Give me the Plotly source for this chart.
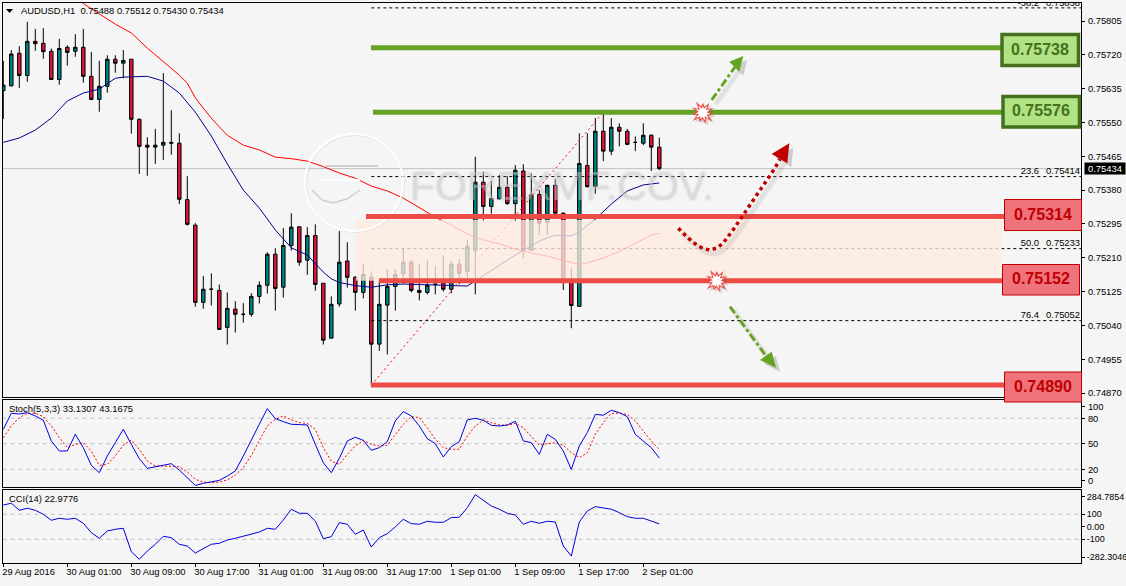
import math
import plotly.graph_objects as go

W, H = 1126, 586

# AUDUSD H1 candles, prices in points (price * 1e5)
opens = [75630,75642,75724,75668,75754,75749,75729,75658,75739,75729,75739,75666,75608,75641,75709,75699,
         75709,75558,75493,75488,75493,75500,75498,75356,75292,75098,75131,75128,75035,75081,75068,75068,
         75113,75141,75219,75136,75241,75288,75204,75266,75146,75008,75094,75202,75161,75123,75161,74993,
         75091,75138,75170,75199,75128,75123,75144,75147,75131,75194,75176,75229,75400,75339,75358,75387,
         75346,75428,75229,75369,75299,75392,75322,75149,75088,75442,75389,75528,75478,75538,75528,75500,
         75498,75518,75488]
highs = [75705,75732,75742,75803,75785,75787,75736,75760,75744,75772,75785,75727,75705,75719,75719,75732,
         75709,75560,75513,75534,75674,75581,75523,75415,75297,75164,75171,75143,75123,75101,75096,75121,
         75151,75224,75234,75285,75322,75288,75287,75294,75146,75113,75277,75249,75164,75196,75176,75152,
         75181,75181,75234,75204,75196,75204,75189,75216,75202,75207,75255,75464,75426,75403,75418,75415,
         75443,75445,75422,75380,75394,75408,75324,75183,75523,75523,75561,75573,75561,75548,75534,75515,
         75548,75520,75512]
lows = [75559,75641,75637,75652,75730,75710,75658,75645,75693,75715,75650,75606,75577,75625,75675,75661,
        75522,75421,75416,75446,75456,75469,75345,75291,75087,75082,75090,75030,74992,75022,75047,75062,
        75095,75120,75077,75110,75228,75190,75167,75127,74992,75008,75087,75135,75077,75108,74890,74976,
        74967,75077,75144,75123,75103,75118,75118,75125,75121,75144,75149,75118,75301,75321,75357,75343,
        75300,75209,75227,75267,75267,75321,75129,75033,75087,75386,75371,75453,75468,75490,75493,75478,
        75493,75428,75430]
closes = [75644,75722,75668,75754,75748,75728,75658,75736,75726,75739,75666,75608,75641,75709,75699,75706,
          75558,75490,75488,75493,75500,75498,75357,75294,75098,75131,75131,75030,75083,75068,75068,75113,
          75141,75219,75133,75241,75287,75199,75266,75143,75003,75093,75199,75161,75123,75168,74993,75093,
          75138,75168,75199,75128,75123,75141,75143,75131,75194,75171,75239,75400,75339,75359,75387,75346,
          75430,75229,75368,75297,75392,75322,75149,75090,75447,75389,75528,75478,75538,75528,75495,75500,
          75518,75488,75434]

# Moving averages, sampled at the listed bars
red_ma_bars = [9,10,14,16,18,20,22,23,24,25,26,27,28,30,32,34,36,38,40,42,44,46,48,50,52,54,56,58,60,62,64,66,68,70,72,73,75,77,79,81,82]
red_ma = [75863,75849,75797,75775,75737,75704,75669,75649,75612,75586,75561,75539,75518,75493,75481,75463,75459,75453,75439,75423,
          75410,75390,75378,75360,75335,75312,75292,75270,75255,75245,75232,75222,75214,75204,75193,75197,75209,75226,75247,75267,75272]
blue_ma_bars = [0,2,4,6,8,10,12,14,15,18,20,22,24,26,28,30,32,34,36,38,40,41,42,44,46,48,50,54,58,59,61,63,65,67,69,71,72,74,76,78,80,82]
blue_ma = [75500,75511,75531,75561,75604,75624,75634,75661,75664,75666,75654,75624,75576,75516,75446,75380,75335,75280,75235,75217,75174,
           75157,75148,75140,75136,75142,75144,75142,75139,75152,75179,75204,75229,75252,75267,75265,75275,75307,75345,75378,75393,75398]

stoch_main = [67,85.8,85,86.6,82.7,77.6,53.3,41.5,41.5,61.1,45.4,24.6,16,35.6,51.3,67,49.3,32.5,21.1,22.7,25,26.6,19.1,10.1,1.1,3.5,5,7,12.1,18,
              35.6,55.2,72.9,91.3,79.5,76,72.9,72.5,72.1,49.3,27.8,16,32.9,53.3,57.6,54,42.3,45.4,
              52.5,76.8,87.8,82.7,70.9,56,50.1,34.4,46.6,52.5,78,79.9,77.6,71.7,70.9,72.1,76.4,53.3,51.3,37.6,61.1,55.2,41.5,19.9,47.4,63.1,84.6,83.5,89.3,86.6,81.9,61.1,53.3,45.4,33.1307]
stoch_signal = [57.2,70.9,80.7,85.8,85.8,81.9,70.9,57.2,45.4,49.3,51.3,41.5,24.6,25.8,35.6,48.2,54.4,43.5,29.7,23.8,23.8,23.8,23.1,16.8,8.2,5,4.2,5,7.4,13.3,
                21.9,36.4,53.3,70.9,78.7,82.7,78,74.8,74,67,45.4,29.7,25.8,37.6,47.4,54,49.3,47.4,
                48.2,61.1,72.9,81.9,80.7,68.9,55.2,45.4,43.5,43.5,59.1,70.9,78,74.8,72.1,71.7,74,68.9,58.4,48.2,50.1,51.3,48.2,39.5,33.7,39.5,61.1,74.8,85.8,85.8,84.6,76.8,65,53.3,43.1675]
cci = [174,188,132,148,132,100,52,68,60,68,28,-47,-92,-34,-20,-12,-199,-260,-194,-140,-76,-87,-140,-154,-210,-175,-140,-132,-106,-92,
       -76,-60,-42,-12,-20,54,140,108,108,46,-95,-79,33,20,-60,-26,-162,-87,
       -55,-1,60,25,20,44,36,36,73,76,153,257,214,166,140,108,94,20,44,28,44,38,-154,-234,38,126,161,148,140,113,81,68,68,46,22.9776]

# Horizontal support and resistance levels with their labels
green_levels = [0.75738, 0.75576]
red_levels = [0.75314, 0.75152, 0.74890]
fib_percent = ["-38.2", "23.6", "50.0", "76.4"]
fib_prices = [0.75838, 0.75414, 0.75233, 0.75052]
last_price = 0.75434

price_ticks = [0.75805,0.75720,0.75635,0.75550,0.75465,0.75380,0.75295,0.75210,0.75125,0.75040,0.74955,0.74870]
time_labels = ["29 Aug 2016","30 Aug 01:00","30 Aug 09:00","30 Aug 17:00","31 Aug 01:00","31 Aug 09:00",
               "31 Aug 17:00","1 Sep 01:00","1 Sep 09:00","1 Sep 17:00","2 Sep 01:00"]
time_bars = [0,8,16,24,32,40,48,56,64,72,80]

# Styling
BG = "#F5F5F5"
TEAL, CRIMSON = "#008080", "#DC143C"
GREEN, DARK_GREEN, LIGHT_GREEN = "#64A323", "#466F1F", "#B1E283"
RED, DARK_RED, PINK = "#EC4B46", "#C00000", "#EE737C"
NAVY, BLUE = "#00008B", "#0000E0"
FONT = "Liberation Sans"
FS = 9.4

# Pixel helpers for the hand-drawn overlays
def fx(px): return px / W
def fy(py): return 1 - py / H
def bar_of(px): return (px - 3.3) / 8
def price_of(py): return (75857.8 - 2.513 * py) / 1e5

def pts(v): return [a / 1e5 for a in v]

bars = list(range(len(closes)))
X_RANGE = [bar_of(2.5), bar_of(1081)]

fig = go.Figure()

fig.add_trace(go.Candlestick(
    x=bars, open=pts(opens), high=pts(highs), low=pts(lows), close=pts(closes),
    increasing=dict(line=dict(color="black", width=1), fillcolor=TEAL),
    decreasing=dict(line=dict(color="black", width=1), fillcolor=CRIMSON),
    whiskerwidth=0, showlegend=False, hoverinfo="skip", xaxis="x", yaxis="y"))
fig.add_trace(go.Scatter(x=blue_ma_bars, y=pts(blue_ma), mode="lines", line=dict(color=NAVY, width=1), xaxis="x", yaxis="y"))
fig.add_trace(go.Scatter(x=red_ma_bars, y=pts(red_ma), mode="lines", line=dict(color="#FF0000", width=1), xaxis="x", yaxis="y"))

# Fibonacci retracement: trend line, levels and their labels
fig.add_trace(go.Scatter(x=[46, 75], y=[red_levels[2], green_levels[1]], mode="lines",
                         line=dict(color="#FF0000", width=1, dash="2px,3px"), xaxis="x", yaxis="y"))
for level in fib_prices:
    fig.add_trace(go.Scatter(x=[46, X_RANGE[1]], y=[level, level], mode="lines",
                             line=dict(color="black", width=1, dash="3px,3px"), xaxis="x", yaxis="y"))
fig.add_trace(go.Scatter(x=[bar_of(1039)] * 4, y=fib_prices, mode="text", text=fib_percent,
                         textposition="top left", textfont=dict(family=FONT, size=FS, color="black"),
                         cliponaxis=True, xaxis="x", yaxis="y"))
fig.add_trace(go.Scatter(x=[bar_of(1080)] * 4, y=fib_prices, mode="text", text=[f"{v:.5f}" for v in fib_prices],
                         textposition="top left", textfont=dict(family=FONT, size=FS, color="black"),
                         cliponaxis=True, xaxis="x", yaxis="y"))

# Oscillator panes
fig.add_trace(go.Scatter(x=bars, y=stoch_signal, mode="lines", line=dict(color="#FF0000", width=1, dash="2px,2px"), xaxis="x2", yaxis="y2"))
fig.add_trace(go.Scatter(x=bars, y=stoch_main, mode="lines", line=dict(color=BLUE, width=1), xaxis="x2", yaxis="y2"))
fig.add_trace(go.Scatter(x=bars, y=cci, mode="lines", line=dict(color=BLUE, width=1), xaxis="x3", yaxis="y3"))

shapes = []
annotations = []

def add_shape(**kw):
    shapes.append(kw)

def poly(points):
    return "M" + "L".join(f"{fx(x):.5f},{fy(y):.5f}" for x, y in points) + "Z"

def open_path(points):
    return "M" + "L".join(f"{fx(x):.5f},{fy(y):.5f}" for x, y in points)

# Current price line sits behind the candles
add_shape(type="line", xref="x", yref="y", x0=X_RANGE[0], x1=X_RANGE[1], y0=last_price, y1=last_price,
          line=dict(color="#C0C0C0", width=1), layer="below")

# Dashed reference levels of the oscillators
for lv in (80, 50, 20):
    add_shape(type="line", xref="x2", yref="y2", x0=X_RANGE[0], x1=X_RANGE[1], y0=lv, y1=lv,
              line=dict(color="#BEBEBE", width=1, dash="4px,4px"), layer="below")
for lv in (100, -100):
    add_shape(type="line", xref="x3", yref="y3", x0=X_RANGE[0], x1=X_RANGE[1], y0=lv, y1=lv,
              line=dict(color="#BEBEBE", width=1, dash="4px,4px"), layer="below")

# Highlighted zone between the two inner support levels
add_shape(type="rect", xref="x", yref="y", x0=bar_of(356), x1=bar_of(1001.7), y0=red_levels[1], y1=price_of(220),
          fillcolor="rgba(254,236,224,0.78)", line=dict(width=0))

# Watermark logo
ring = dict(type="circle", xref="paper", yref="paper")
add_shape(**ring, x0=fx(306.5), x1=fx(404.5), y0=fy(232.5), y1=fy(135.5), line=dict(color="rgba(160,160,160,0.22)", width=1))
add_shape(**ring, x0=fx(305), x1=fx(403), y0=fy(231), y1=fy(134), line=dict(color="rgba(255,255,255,0.9)", width=2))
add_shape(type="line", xref="paper", yref="paper", x0=fx(326), x1=fx(378), y0=fy(166), y1=fy(166), line=dict(color="rgba(160,160,160,0.45)", width=2))
add_shape(type="line", xref="paper", yref="paper", x0=fx(320), x1=fx(360), y0=fy(180), y1=fy(180), line=dict(color="rgba(255,255,255,0.9)", width=2))
add_shape(type="path", xref="paper", yref="paper",
          path=open_path([(312,190),(322,200),(333,203),(347,199),(360,190)]),
          line=dict(color="rgba(175,175,175,0.55)", width=1.5))

# Support and resistance lines with their value boxes
line_spans = {0.75738: 371, 0.75576: 373, 0.75314: 366, 0.75152: 379, 0.74890: 371}
line_ends = {0.75738: 1001, 0.75576: 1002, 0.75314: 1005, 0.75152: 1003, 0.74890: 1005}
for lv in green_levels:
    add_shape(type="line", xref="x", yref="y", x0=bar_of(line_spans[lv]), x1=bar_of(line_ends[lv]), y0=lv, y1=lv,
              line=dict(color=GREEN, width=5))
for lv in red_levels:
    add_shape(type="line", xref="x", yref="y", x0=bar_of(line_spans[lv]), x1=bar_of(line_ends[lv]), y0=lv, y1=lv,
              line=dict(color=RED, width=5))

boxes = [
    (green_levels[0], 1002, 1078.5, 34.5, 65.5, LIGHT_GREEN, DARK_GREEN, 3.5, DARK_GREEN),
    (green_levels[1], 1003, 1079.5, 96.5, 127, LIGHT_GREEN, DARK_GREEN, 3.5, DARK_GREEN),
    (red_levels[0], 1004.5, 1081.5, 199.5, 230.5, PINK, DARK_RED, 1, DARK_RED),
    (red_levels[1], 1002.5, 1079.5, 264.5, 295, PINK, DARK_RED, 1, DARK_RED),
    (red_levels[2], 1004.5, 1081.5, 372, 402, PINK, DARK_RED, 1, DARK_RED),
]
for value, x0, x1, y0, y1, fill, border, bw, txt in boxes:
    add_shape(type="rect", xref="paper", yref="paper", x0=fx(x0), x1=fx(x1), y0=fy(y1), y1=fy(y0),
              fillcolor=fill, line=dict(color=border, width=bw))
    annotations.append(dict(xref="paper", yref="paper", x=fx((x0 + x1) / 2), y=fy((y0 + y1) / 2 - 1), text=f"{value:.5f}",
                            showarrow=False, xanchor="center", yanchor="middle",
                            font=dict(family="Liberation Sans", size=16, color=txt, weight="bold")))

# Projected-move arrows, each with a soft drop shadow
def arrow(path_pts, head, color, width, dash):
    shadow = [(x + 4, y + 4) for x, y in path_pts]
    head_shadow = [(x + 4, y + 4) for x, y in head]
    for extra, alpha in ((3, 0.05), (1, 0.08)):
        add_shape(type="path", xref="paper", yref="paper", path=open_path(shadow),
                  line=dict(color=f"rgba(90,90,90,{alpha})", width=width + extra))
    add_shape(type="path", xref="paper", yref="paper", path=poly(head_shadow),
              fillcolor="rgba(90,90,90,0.25)", line=dict(width=0))
    add_shape(type="path", xref="paper", yref="paper", path=open_path(path_pts),
              line=dict(color=color, width=width, dash=dash))
    add_shape(type="path", xref="paper", yref="paper", path=poly(head), fillcolor=color, line=dict(width=0))

arrow([(711.7,100),(735,67)], [(729.3,61.7),(743.3,56),(739.3,71.7)], GREEN, 3, "8px,3px,3px,3px")
arrow([(730,306.7),(766,356)], [(760,360),(771.7,351.7),(776,367.7)], GREEN, 3, "8px,3px,3px,3px")
arrow([(678.3,228.3),(687,237),(696.7,245),(703,248.5),(710,250),(717,248),(723,243.3),(733,230),(743.3,215),(756.7,195),(767,180),(775,168),(780,159)],
      [(771.7,154),(789.3,143.3),(787.3,163.3)], DARK_RED, 3.5, "3.5px,3.5px")

# Impact stars on the levels
spikes = [12,6,11,6.5,13,6,12,6,10,6.5,13,6,11,6,12,6,13,6.5,10,6,12,6]
def star(cx, cy):
    outer, inner = [], []
    n = len(spikes)
    for k, r in enumerate(spikes):
        a = 2 * math.pi * k / n - 0.4
        outer.append((cx + r * math.cos(a), cy + r * math.sin(a)))
        ri = r * 0.68
        inner.append((cx + ri * math.cos(a), cy + ri * math.sin(a)))
    add_shape(type="path", xref="paper", yref="paper", path=poly([(x + 2, y + 2) for x, y in outer]),
              fillcolor="rgba(90,90,90,0.22)", line=dict(width=0))
    add_shape(type="path", xref="paper", yref="paper", path=poly(outer), fillcolor=RED, line=dict(width=0))
    add_shape(type="path", xref="paper", yref="paper", path=poly(inner), fillcolor="white", line=dict(width=0))
star(702.7, 112.7)
star(716.7, 281)

# Symbol menu marker
add_shape(type="path", xref="paper", yref="paper", path=poly([(6,9),(13,9),(9.5,13)]), fillcolor="black", line=dict(width=0))

def text_at(px, py, s, color="black", size=FS, anchor="left", **kw):
    annotations.append(dict(xref="paper", yref="paper", x=fx(px), y=fy(py), text=s, showarrow=False,
                            xanchor=anchor, yanchor="middle", font=dict(family=FONT, size=size, color=color), **kw))

text_at(18.5, 10.5, "AUDUSD,H1  0.75488 0.75512 0.75430 0.75434")
text_at(7, 408.5, "Stoch(5,3,3) 33.1307 43.1675")
text_at(7, 498.5, "CCI(14) 22.9776")

# Watermark lettering
annotations.append(dict(xref="paper", yref="paper", x=fx(562), y=fy(186), text="FOREXMF.COV.", showarrow=False,
                        xanchor="center", yanchor="middle",
                        font=dict(family=FONT, size=41, color="rgba(248,248,248,0.35)",
                                  shadow="0px 0px 2px rgba(80,80,80,0.8)")))

# Black tag with the latest price
annotations.append(dict(xref="paper", yref="y", x=fx(1083.5), y=last_price, text=f"{last_price:.5f}", showarrow=False,
                        xanchor="left", yanchor="middle", bgcolor="black", borderpad=0,
                        font=dict(family=FONT, size=FS, color="white"), width=40, align="center"))

common_x = dict(range=X_RANGE, showgrid=False, zeroline=False, showline=True, mirror=True,
                linecolor="black", linewidth=1, domain=[fx(2.5), fx(1081)], showticklabels=False, ticks="")
common_y = dict(showgrid=False, zeroline=False, showline=True, mirror=True, linecolor="black", linewidth=1,
                side="right", ticks="outside", ticklen=3, tickcolor="black", automargin=False, ticklabelstandoff=1,
                tickfont=dict(family=FONT, size=FS, color="black"))

fig.update_layout(
    width=W, height=H, autosize=False, margin=dict(l=0, r=0, t=0, b=0, autoexpand=False),
    paper_bgcolor=BG, plot_bgcolor=BG, showlegend=False, hovermode=False,
    shapes=shapes, annotations=annotations,
    xaxis=dict(common_x, anchor="y", rangeslider=dict(visible=False)),
    xaxis2=dict(common_x, anchor="y2"),
    xaxis3=dict(common_x, anchor="y3", ticks="outside", ticklen=3, tickcolor="black", showticklabels=True,
                tickvals=time_bars, ticktext=time_labels, ticklabelposition="outside right", tickangle=0, automargin=False,
                ticklabelshift=-2, tickfont=dict(family=FONT, size=FS, color="black")),
    yaxis=dict(common_y, anchor="x", domain=[fy(397), fy(2.5)], range=[price_of(397), price_of(2.5)],
               tickvals=price_ticks, ticktext=[f"{v:.5f}" for v in price_ticks]),
    # The 100 and 0 labels of the stochastic, and the extremes of the CCI, sit just inside their panes
    yaxis2=dict(common_y, anchor="x2", domain=[fy(487), fy(399.5)], range=[-0.8, 102],
                tickvals=[93.6, 80, 50, 20, 7], ticktext=["100", "80", "50", "20", "0"]),
    yaxis3=dict(common_y, anchor="x3", domain=[fy(563), fy(489.5)], range=[-289.6, 298],
                tickvals=[240.8, 100, 0, -100, -241.6],
                ticktext=["284.7854", "100", "0.00", "-100", "-282.3046"],
                tickfont=dict(family=FONT, size=9, color="black"), ticklabelstandoff=0),
    boxgap=0.38,
)

fig.write_html("out.html")
